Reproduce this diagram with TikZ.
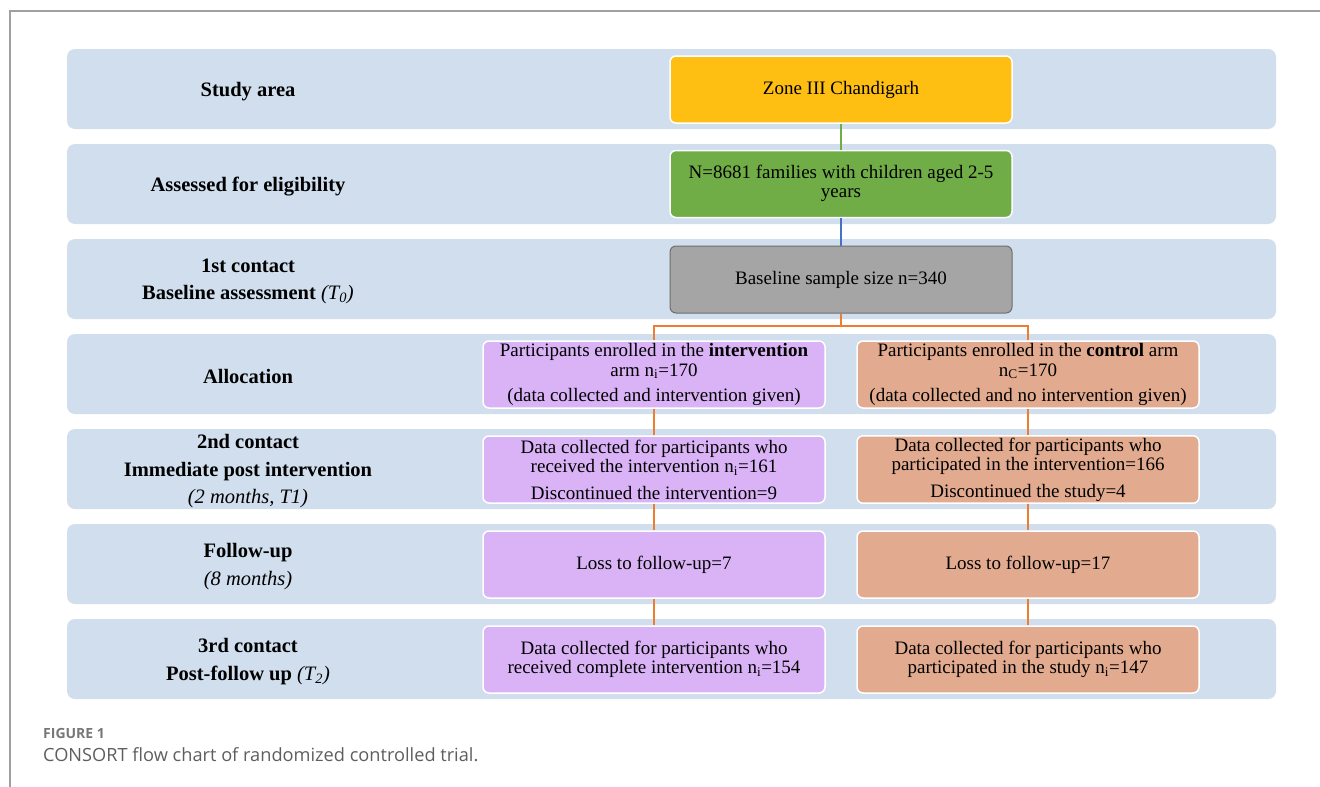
\documentclass[tikz,border=0pt]{standalone}
\usepackage{fontspec}
\setmainfont{Liberation Serif}
\newfontfamily\capfont{Open Sans}
\definecolor{bandc}{HTML}{D0DEEE}
\definecolor{zonec}{HTML}{FEBF12}
\definecolor{greenc}{HTML}{70AD47}
\definecolor{grayc}{HTML}{A5A5A5}
\definecolor{grayb}{HTML}{6E6E6E}
\definecolor{purpc}{HTML}{DAB3F7}
\definecolor{salmc}{HTML}{E2AB8F}
\definecolor{orangec}{HTML}{ED7D31}
\definecolor{bluec}{HTML}{4472C4}
\definecolor{framec}{HTML}{A0A0A0}
\definecolor{capc}{HTML}{5E5E5E}
\definecolor{figc}{HTML}{777777}
\begin{document}
\begin{tikzpicture}[x=1pt,y=-1pt,
  band/.style={fill=bandc, rounded corners=8pt},
  lab/.style={font=\fontsize{20.5}{27.5}\selectfont\bfseries, align=center, inner sep=0pt, yshift=-2.5pt},
  box/.style={rectangle, rounded corners=6pt, draw=white, line width=1.5pt,
    minimum width=342pt, minimum height=67pt, align=center, inner sep=2pt,
    font=\fontsize{19}{19.5}\selectfont},
  conn/.style={line width=1.4pt, draw=orangec}]
\useasboundingbox (0,0) rectangle (1320,787);
\draw[framec, line width=1.2pt] (10,787) -- (10,11) -- (1320,11);
% bands
\foreach \t in {49,144,239,334,429,524,619}{
  \fill[band] (67,\t) rectangle (1276,\t+80);
}
% labels
\node[lab] (l1) at (248,89) {Study area};
\node[lab] (l2) at (248,184) {Assessed for eligibility};
\node[lab] (l3) at (248,279) {1st contact\\Baseline assessment \textit{\mdseries(T\textsubscript{0})}};
\node[lab] (l4) at (248,374) {Allocation};
\node[lab] (l5) at (248,469) {2nd contact\\Immediate post intervention\\\textit{\mdseries(2 months, T1)}};
\node[lab] (l6) at (248,564) {Follow-up\\\textit{\mdseries(8 months)}};
\node[lab] (l7) at (248,659) {3rd contact\\Post-follow up \textit{\mdseries(T\textsubscript{2})}};
% centre column
\node[box, fill=zonec] (zone) at (841,89.5) {\raisebox{-2pt}{Zone III Chandigarh}};
\node[box, fill=greenc] (elig) at (841,184) {\raisebox{-2pt}{\begin{tabular}{@{}c@{}}N=8681 families with children aged 2-5\\years\end{tabular}}};
\node[box, fill=grayc, draw=grayb, line width=1pt] (base) at (841,279.5) {\raisebox{-2pt}{Baseline sample size n=340}};
% left column
\node[box, fill=purpc] (ia) at (654,374.5) {Participants enrolled in the \textbf{intervention}\\arm n\textsubscript{i}=170\\[6pt](data collected and intervention given)};
\node[box, fill=purpc] (ib) at (654,469.5) {Data collected for participants who\\received the intervention n\textsubscript{i}=161\\[7pt]Discontinued the intervention=9};
\node[box, fill=purpc] (ic) at (654,564.5) {\raisebox{-2pt}{Loss to follow-up=7}};
\node[box, fill=purpc] (id) at (654,659.5) {Data collected for participants who\\received complete intervention n\textsubscript{i}=154};
% right column
\node[box, fill=salmc] (ca) at (1028,374.5) {Participants enrolled in the \textbf{control} arm\\n\textsubscript{C}=170\\[6pt](data collected and no intervention given)};
\node[box, fill=salmc] (cb) at (1028,469.5) {Data collected for participants who\\participated in the intervention=166\\[7pt]Discontinued the study=4};
\node[box, fill=salmc] (cc) at (1028,564.5) {\raisebox{-2pt}{Loss to follow-up=17}};
\node[box, fill=salmc] (cd) at (1028,659.5) {Data collected for participants who\\participated in the study n\textsubscript{i}=147};
% connectors
\draw[line width=1.4pt, greenc] (zone.south) -- (elig.north);
\draw[line width=1.4pt, bluec] (elig.south) -- (base.north);
\coordinate (split) at (841,326);
\draw[conn] (base.south) -- (split);
\draw[conn] (split) -| (ia.north);
\draw[conn] (split) -| (ca.north);
\draw[conn] (ia.south) -- (ib.north);
\draw[conn] (ib.south) -- (ic.north);
\draw[conn] (ic.south) -- (id.north);
\draw[conn] (ca.south) -- (cb.north);
\draw[conn] (cb.south) -- (cc.north);
\draw[conn] (cc.south) -- (cd.north);
% caption
\node[anchor=west, inner sep=0pt, font=\capfont\bfseries\fontsize{14}{14}\selectfont, text=figc] (fig) at (43,733) {FIGURE 1};
\node[anchor=west, inner sep=0pt, font=\capfont\fontsize{18.2}{18.2}\selectfont, text=capc] (cap) at (43,755) {CONSORT flow chart of randomized controlled trial.};
\end{tikzpicture}
\end{document}
